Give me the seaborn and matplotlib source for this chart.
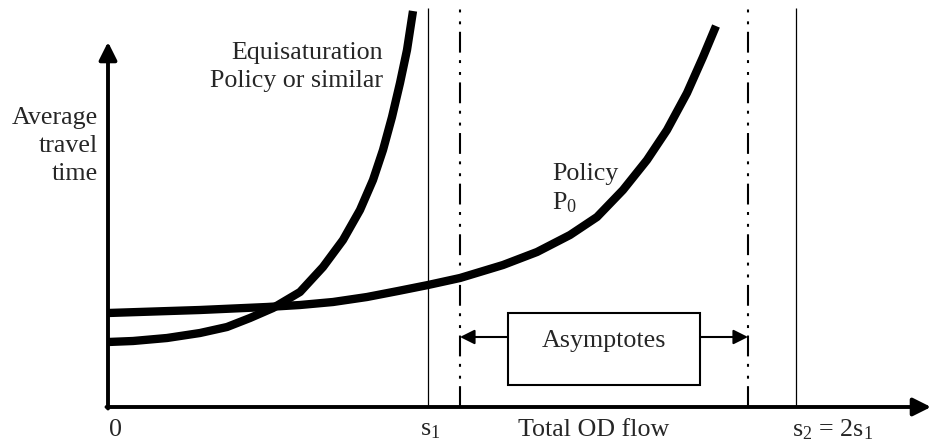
import pandas as pd
import seaborn as sns
import matplotlib.pyplot as plt

# Set style
sns.set_style("white")
plt.rcParams["font.family"] = ["Liberation Serif", "DejaVu Serif"]
plt.rcParams["mathtext.fontset"] = "custom"
plt.rcParams["mathtext.rm"] = "Liberation Serif"
plt.rcParams["mathtext.it"] = "Liberation Serif:italic"

# Curves (x = flow, y = average travel time)
equi_flow = [0, 25, 59, 92, 119, 142, 165, 192, 215, 235, 252, 265, 275, 284, 292, 299, 305]
equi_time = [65, 66, 69, 74, 80, 89, 99, 115, 140, 167, 197, 227, 257, 290, 324, 357, 396]

p0_flow = [0, 92, 159, 192, 225, 259, 290, 320, 352, 395, 429, 462, 489, 515, 539, 559, 579, 595, 608]
p0_time = [94, 97, 100, 102, 105, 110, 116, 122, 129, 142, 155, 172, 190, 217, 247, 277, 314, 350, 381]

# Vertical reference lines
s1 = 320
s2 = 688
asymptotes = [352, 640]

curves = pd.concat([
    pd.DataFrame({'flow': equi_flow, 'time': equi_time, 'policy': 'Equisaturation'}),
    pd.DataFrame({'flow': p0_flow, 'time': p0_time, 'policy': 'P0'}),
], ignore_index=True)

fig = plt.figure(figsize=(9.33, 4.42), dpi=100)
ax = fig.add_axes([0, 0, 1, 1])

sns.lineplot(data=curves, x='flow', y='time', hue='policy', units='policy', estimator=None,
             palette=['black', 'black'], linewidth=6, legend=False, ax=ax,
             solid_capstyle='butt', solid_joinstyle='round')

# s1, s2 and asymptotes
ax.vlines([s1, s2], 0, 399, color='black', linewidth=0.9)
ax.vlines(asymptotes, 0, 399, color='black', linewidth=1.5,
          linestyles=[(0, (10, 3.6, 1.4, 4.3, 1.4, 3.6))])

# Axes with arrowheads
axis_arrow = dict(arrowstyle='-|>', lw=2.8, color='black', mutation_scale=27,
                  shrinkA=0, shrinkB=0)
ax.annotate('', xy=(0, 365), xytext=(0, -1.5), arrowprops=axis_arrow)
ax.annotate('', xy=(823, 0), xytext=(-1.5, 0), arrowprops=axis_arrow)

# Asymptotes box with arrows
fs = 18.7
ax.text(496, 66, 'Asymptotes', ha='center', va='center', fontsize=fs)
ax.add_patch(plt.Rectangle((400, 22), 192, 72, fill=False, ec='black', lw=1.5))
small_arrow = dict(arrowstyle='-|>', lw=1.5, color='black', mutation_scale=22,
                   shrinkA=0, shrinkB=0)
ax.annotate('', xy=(asymptotes[0], 70), xytext=(400, 70), arrowprops=small_arrow)
ax.annotate('', xy=(asymptotes[1], 70), xytext=(592, 70), arrowprops=small_arrow)

# Labels
ax.text(275, 340, 'Equisaturation\nPolicy or similar', ha='right', va='center',
        fontsize=fs, linespacing=1.35)
ax.text(-10, 261, 'Average\ntravel\ntime', ha='right', va='center',
        fontsize=fs, linespacing=1.35)
ax.text(444, 218, 'Policy\nP$_0$', ha='left', va='center', fontsize=fs, linespacing=1.3)
ax.text(7, -23, '0', ha='center', va='center', fontsize=fs)
ax.text(322, -23, 's$_1$', ha='center', va='center', fontsize=fs)
ax.text(486, -23, 'Total OD flow', ha='center', va='center', fontsize=fs)
ax.text(725, -23, 's$_2$ = 2s$_1$', ha='center', va='center', fontsize=fs)

ax.set_xlim(-108, 825)
ax.set_ylim(-35, 407)
ax.axis('off')

plt.savefig('out.png', dpi=100)
